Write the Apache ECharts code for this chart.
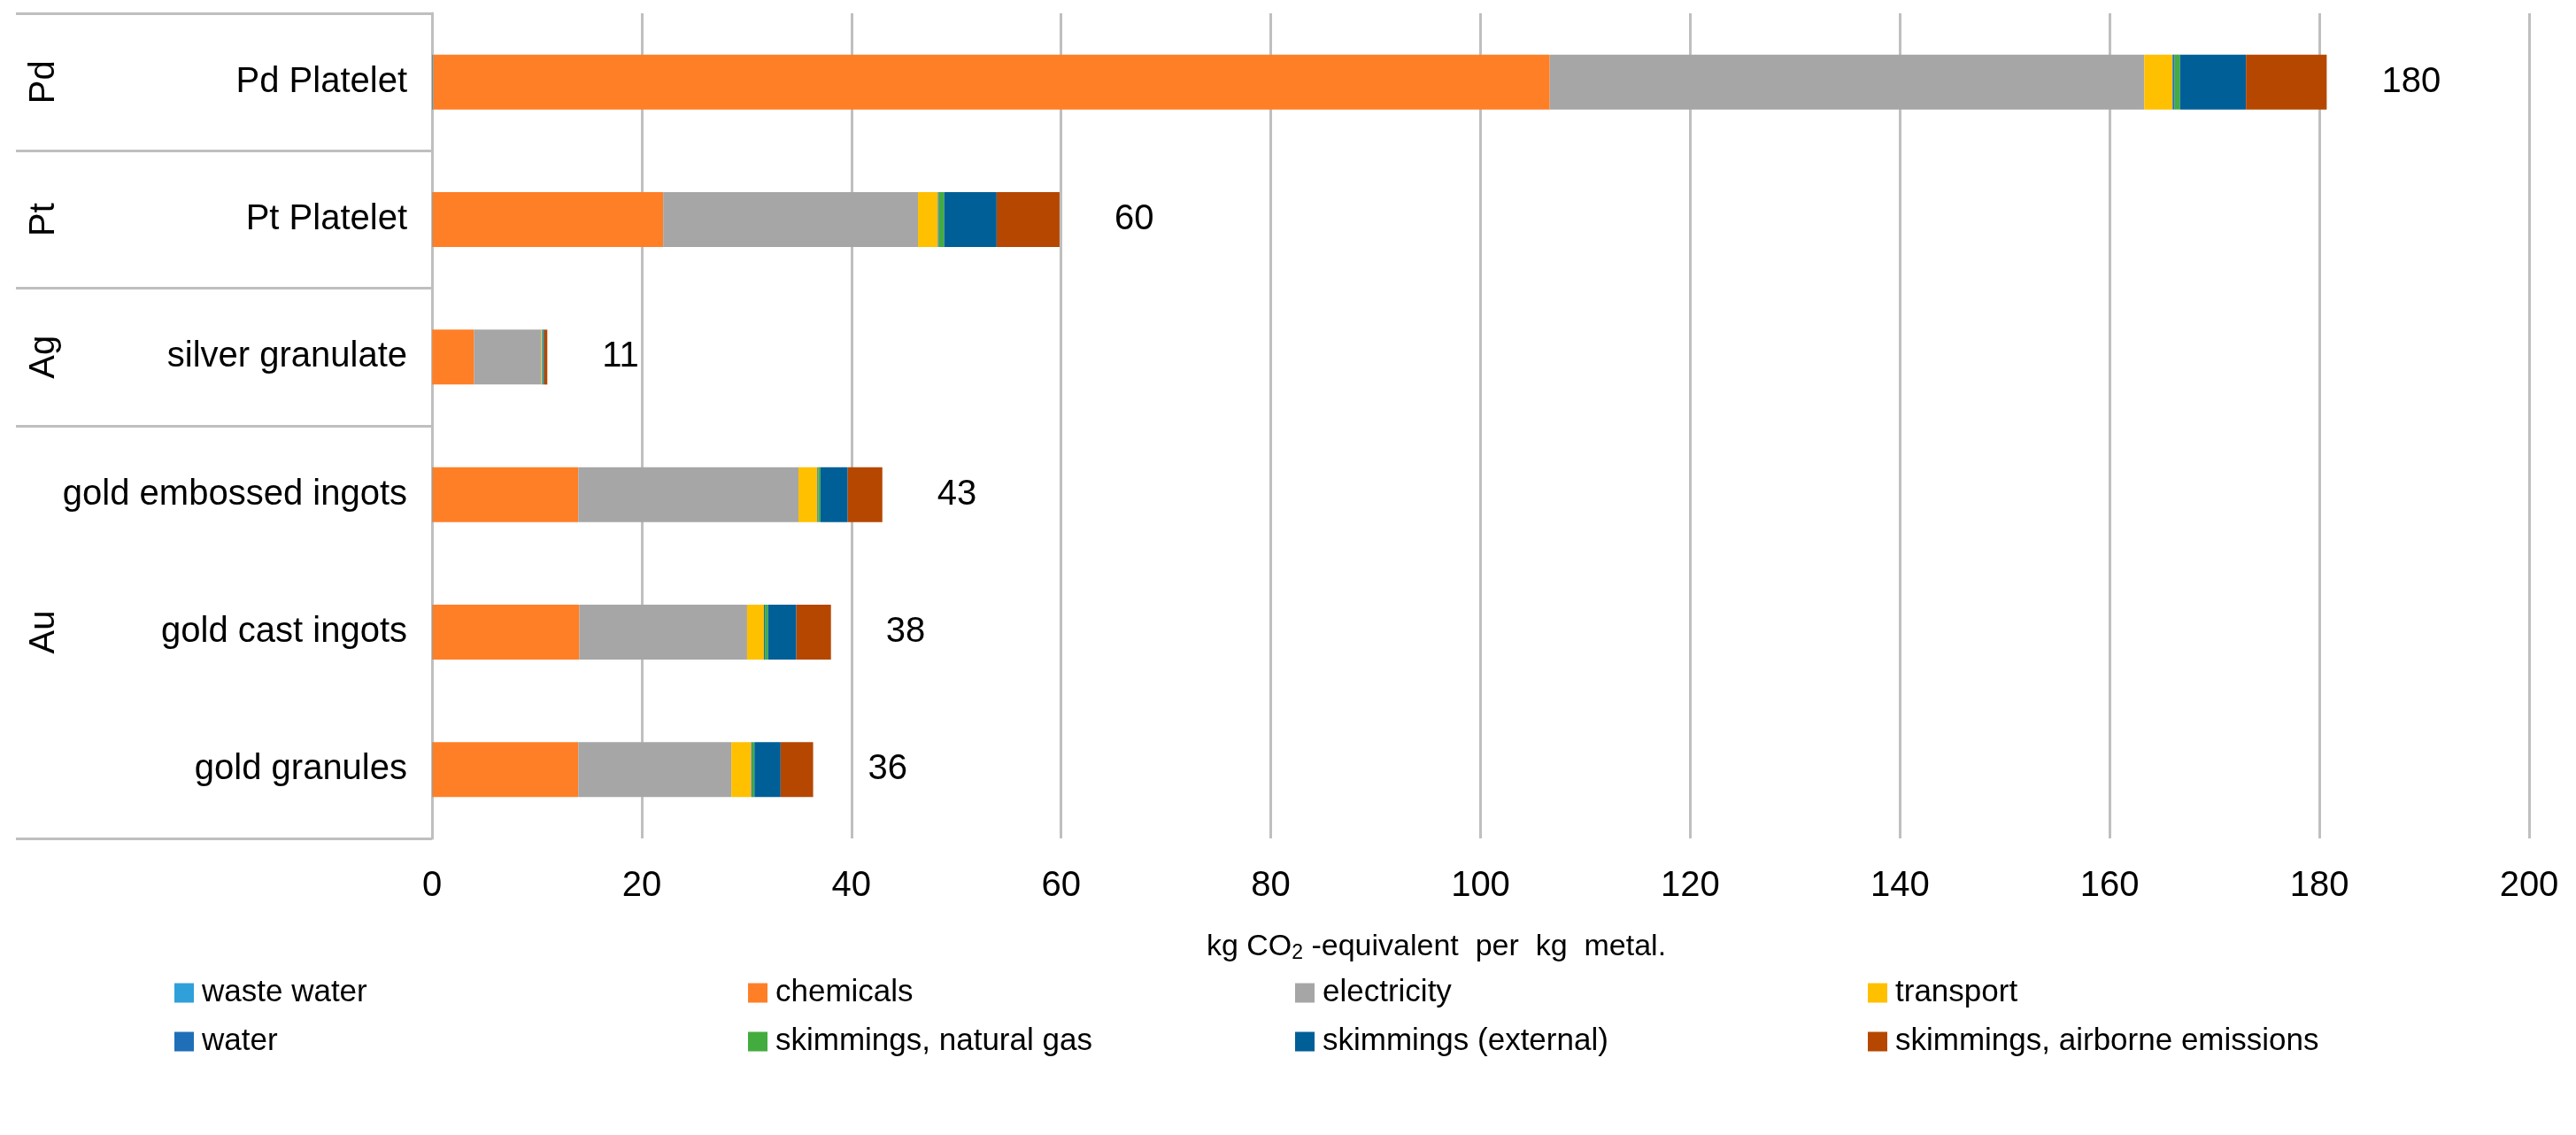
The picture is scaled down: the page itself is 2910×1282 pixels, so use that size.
<!DOCTYPE html>
<html>
<head>
<meta charset="utf-8">
<script src="https://cdn.jsdelivr.net/npm/echarts@6/dist/echarts.min.js"></script>
<style>html,body{margin:0;padding:0;background:#fff}#c{width:2910px;height:1282px}</style>
</head>
<body>
<div id="c"></div>
<script>
// Categories (bottom to top)
const categories = ['gold granules', 'gold cast ingots', 'gold embossed ingots', 'silver granulate', 'Pt Platelet', 'Pd Platelet'];
const groupLabels = ['', 'Au', '', 'Ag', 'Pt', 'Pd'];
const groupBoundaries = [0, 3, 4, 5];
// Series values (kg CO2-eq per kg metal)
const wasteWater   = [0.05, 0.05, 0.05, 0.02, 0.05, 0.1];
const chemicals    = [13.9, 14.0, 13.9, 4.0, 22.0, 106.5];
const electricity  = [14.6, 16.0, 21.0, 6.4, 24.3, 56.7];
const transport    = [1.9, 1.6, 1.8, 0.05, 1.9, 2.7];
const water        = [0.1, 0.1, 0.1, 0.05, 0.1, 0.2];
const skimGas      = [0.2, 0.3, 0.2, 0.08, 0.5, 0.5];
const skimExternal = [2.5, 2.7, 2.6, 0.1, 5.0, 6.3];
const skimAirborne = [3.1, 3.3, 3.3, 0.3, 6.0, 7.7];
const totals       = [36, 38, 43, 11, 60, 180];

const seriesDefs = [
  {name: 'waste water', data: wasteWater, color: '#2FA0DA'},
  {name: 'chemicals', data: chemicals, color: '#FF7F27'},
  {name: 'electricity', data: electricity, color: '#A6A6A6'},
  {name: 'transport', data: transport, color: '#FFC000'},
  {name: 'water', data: water, color: '#1F6FB8'},
  {name: 'skimmings, natural gas', data: skimGas, color: '#43AC3F'},
  {name: 'skimmings (external)', data: skimExternal, color: '#005F97'},
  {name: 'skimmings, airborne emissions', data: skimAirborne, color: '#B54700'}
];

const FONT = "'Liberation Sans', Arial, sans-serif";
const GRID_COLOR = '#BFBFBF';

const series = seriesDefs.map((d, i) => {
  const s = {
    name: d.name,
    type: 'bar',
    stack: 'total',
    barWidth: 62,
    data: d.data,
    itemStyle: {color: d.color},
    emphasis: {disabled: true}
  };
  if (i === seriesDefs.length - 1) {
    s.label = {
      show: true,
      position: 'right',
      distance: 62,
      fontSize: 40,
      fontFamily: FONT,
      color: '#000',
      formatter: p => String(totals[p.dataIndex])
    };
  }
  return s;
});

const legendCols = [
  ['waste water', 'water'],
  ['chemicals', 'skimmings, natural gas'],
  ['electricity', 'skimmings (external)'],
  ['transport', 'skimmings, airborne emissions']
];
const legendLefts = [197, 845, 1463, 2110];
const legends = legendCols.map((names, i) => ({
  data: names,
  orient: 'vertical',
  left: legendLefts[i],
  top: 1104,
  padding: 0,
  itemGap: 20,
  itemWidth: 22,
  itemHeight: 22,
  icon: 'rect',
  selectedMode: false,
  textStyle: {fontSize: 35, fontFamily: FONT, color: '#000', padding: [0, 0, 0, 4]}
}));

const chart = echarts.init(document.getElementById('c'));
chart.setOption({
  animation: false,
  backgroundColor: '#fff',
  textStyle: {fontFamily: FONT},
  grid: {left: 488, right: 53, top: 15, bottom: 335, containLabel: false},
  legend: legends,
  xAxis: {
    type: 'value',
    min: 0, max: 200, interval: 20,
    axisLine: {show: false},
    axisTick: {show: false},
    axisLabel: {fontSize: 40, fontFamily: FONT, color: '#000', margin: 34},
    splitLine: {show: true, lineStyle: {color: GRID_COLOR, width: 3}},
    name: '{a|kg CO}{s|2}{a| -equivalent  per  kg  metal.}',
    nameLocation: 'middle',
    nameGap: 104,
    nameTextStyle: {
      padding: [0, 100, 0, 0],
      rich: {
        a: {fontSize: 34, fontFamily: FONT, color: '#000'},
        s: {fontSize: 23, fontFamily: FONT, color: '#000', padding: [14, 0, 0, 0]}
      }
    }
  },
  yAxis: [
    {
      type: 'category',
      data: categories,
      axisLine: {show: true, lineStyle: {color: GRID_COLOR, width: 3}},
      axisTick: {
        show: true,
        length: 470,
        lineStyle: {color: GRID_COLOR, width: 3},
        interval: (index) => groupBoundaries.indexOf(index) >= 0
      },
      axisLabel: {fontSize: 40, fontFamily: FONT, color: '#000', margin: 28, interval: 0},
      splitLine: {show: false}
    },
    {
      type: 'category',
      data: categories,
      position: 'left',
      offset: 418,
      axisLine: {show: false},
      axisTick: {show: false},
      splitLine: {show: false},
      axisLabel: {
        interval: 0,
        rotate: 90,
        margin: 0,
        fontSize: 40,
        fontFamily: FONT,
        color: '#000',
        formatter: (v, idx) => groupLabels[idx]
      }
    }
  ],
  series: series
});
</script>
</body>
</html>
